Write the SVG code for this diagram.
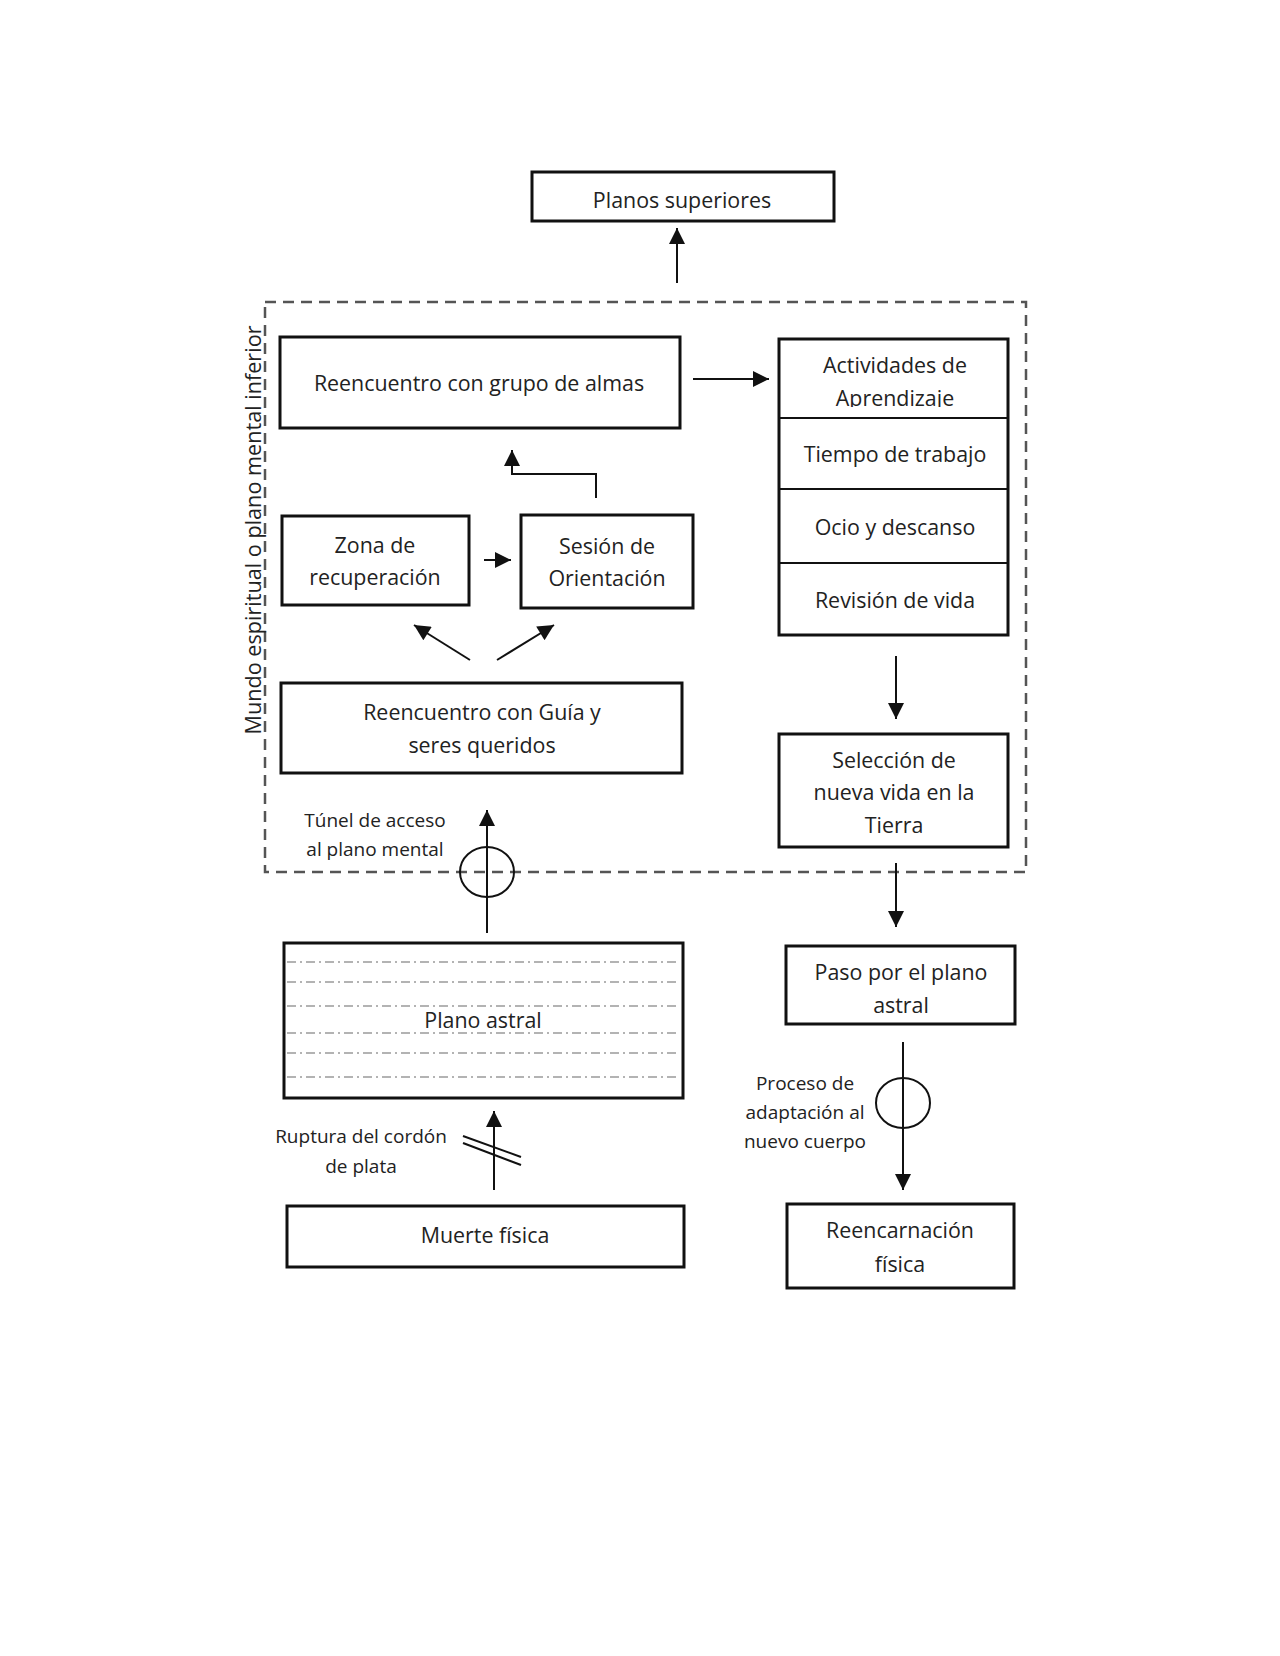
<svg xmlns="http://www.w3.org/2000/svg" width="1280" height="1656" viewBox="0 0 1280 1656">
<defs>
<style>
.box{fill:#fff;stroke:#111;stroke-width:3}
.t{font-family:"Open Sans","Noto Sans",sans-serif;font-size:21.4px;fill:#222;text-anchor:middle}
.s{font-family:"Open Sans","Noto Sans",sans-serif;font-size:19px;fill:#222;text-anchor:middle}
.c{fill:none;stroke:#111;stroke-width:2}
.dd{fill:none;stroke:#9a9a9a;stroke-width:1.3;stroke-dasharray:9 4 2 4}
</style>
<marker id="ah" viewBox="0 0 10 10" refX="10" refY="5" markerWidth="17" markerHeight="16" markerUnits="userSpaceOnUse" orient="auto">
<path d="M0,0 L10,5 L0,10 Z" fill="#111"/>
</marker>
<clipPath id="clipAct"><rect x="779" y="339" width="229" height="68"/></clipPath>
</defs>
<rect width="1280" height="1656" fill="#fff"/>

<g id="frame">
<rect x="265" y="302" width="761" height="570" fill="none" stroke="#555" stroke-width="2.5" stroke-dasharray="11 7"/>
<text class="t" font-size="22" transform="translate(261,530) rotate(-90)" x="0" y="0" textLength="409" lengthAdjust="spacingAndGlyphs">Mundo espiritual o plano mental inferior</text>
</g>

<g id="connectors">
<line class="c" x1="677" y1="283" x2="677" y2="228" marker-end="url(#ah)"/>
<line class="c" x1="693" y1="379" x2="769" y2="379" marker-end="url(#ah)"/>
<polyline class="c" points="596,498 596,474 512,474 512,450" marker-end="url(#ah)"/>
<line class="c" x1="484" y1="560" x2="511" y2="560" marker-end="url(#ah)"/>
<line class="c" x1="470" y1="660" x2="414" y2="625" marker-end="url(#ah)"/>
<line class="c" x1="497" y1="660" x2="554" y2="625" marker-end="url(#ah)"/>
<line class="c" x1="896" y1="656" x2="896" y2="719" marker-end="url(#ah)"/>
<line class="c" x1="896" y1="863" x2="896" y2="927" marker-end="url(#ah)"/>
<line class="c" x1="903" y1="1042" x2="903" y2="1190" marker-end="url(#ah)"/>
<ellipse class="c" cx="903" cy="1103" rx="27" ry="25"/>
<line class="c" x1="487" y1="933" x2="487" y2="810" marker-end="url(#ah)"/>
<ellipse class="c" cx="487" cy="872" rx="27" ry="25"/>
<line class="c" x1="494" y1="1190" x2="494" y2="1111" marker-end="url(#ah)"/>
<line class="c" x1="463" y1="1136" x2="521" y2="1157"/>
<line class="c" x1="463" y1="1143" x2="521" y2="1165"/>
</g>

<g id="planos-superiores">
<rect class="box" x="532" y="172" width="302" height="49"/>
<text class="t" x="682" y="208">Planos superiores</text>
</g>

<g id="grupo-almas">
<rect class="box" x="280" y="337" width="400" height="91"/>
<text class="t" x="479" y="391">Reencuentro con grupo de almas</text>
</g>

<g id="zona-recuperacion">
<rect class="box" x="282" y="516" width="187" height="89"/>
<text class="t" x="375" y="553">Zona de</text>
<text class="t" x="375" y="585">recuperación</text>
</g>

<g id="sesion-orientacion">
<rect class="box" x="521" y="515" width="172" height="93"/>
<text class="t" x="607" y="554">Sesión de</text>
<text class="t" x="607" y="586">Orientación</text>
</g>

<g id="guia">
<rect class="box" x="281" y="683" width="401" height="90"/>
<text class="t" x="482" y="720">Reencuentro con Guía y</text>
<text class="t" x="482" y="753">seres queridos</text>
</g>

<g id="actividades">
<rect class="box" x="779" y="339" width="229" height="296"/>
<line class="c" x1="779" y1="418" x2="1008" y2="418" stroke-width="3"/>
<line class="c" x1="779" y1="489" x2="1008" y2="489" stroke-width="3"/>
<line class="c" x1="779" y1="563" x2="1008" y2="563" stroke-width="3"/>
<text class="t" x="895" y="373">Actividades de</text>
<g clip-path="url(#clipAct)"><text class="t" x="895" y="406">Aprendizaje</text></g>
<text class="t" x="895" y="462">Tiempo de trabajo</text>
<text class="t" x="895" y="535">Ocio y descanso</text>
<text class="t" x="895" y="608">Revisión de vida</text>
</g>

<g id="seleccion">
<rect class="box" x="779" y="734" width="229" height="113"/>
<text class="t" x="894" y="768">Selección de</text>
<text class="t" x="894" y="800">nueva vida en la</text>
<text class="t" x="894" y="833">Tierra</text>
</g>

<g id="paso-astral">
<rect class="box" x="786" y="946" width="229" height="78"/>
<text class="t" x="901" y="980">Paso por el plano</text>
<text class="t" x="901" y="1013">astral</text>
</g>

<g id="reencarnacion">
<rect class="box" x="787" y="1204" width="227" height="84"/>
<text class="t" x="900" y="1238">Reencarnación</text>
<text class="t" x="900" y="1272">física</text>
</g>

<g id="plano-astral">
<rect class="box" x="284" y="943" width="399" height="155"/>
<line class="dd" x1="287" y1="962" x2="680" y2="962"/>
<line class="dd" x1="287" y1="982" x2="680" y2="982"/>
<line class="dd" x1="287" y1="1006" x2="680" y2="1006"/>
<line class="dd" x1="287" y1="1033" x2="680" y2="1033"/>
<line class="dd" x1="287" y1="1053" x2="680" y2="1053"/>
<line class="dd" x1="287" y1="1077" x2="680" y2="1077"/>
<text class="t" x="483" y="1028">Plano astral</text>
</g>

<g id="muerte">
<rect class="box" x="287" y="1206" width="397" height="61"/>
<text class="t" x="485" y="1243">Muerte física</text>
</g>

<g id="labels">
<text class="s" x="375" y="827">Túnel de acceso</text>
<text class="s" x="375" y="856">al plano mental</text>
<text class="s" x="361" y="1143">Ruptura del cordón</text>
<text class="s" x="361" y="1173">de plata</text>
<text class="s" x="805" y="1090">Proceso de</text>
<text class="s" x="805" y="1119">adaptación al</text>
<text class="s" x="805" y="1148">nuevo cuerpo</text>
</g>
</svg>
